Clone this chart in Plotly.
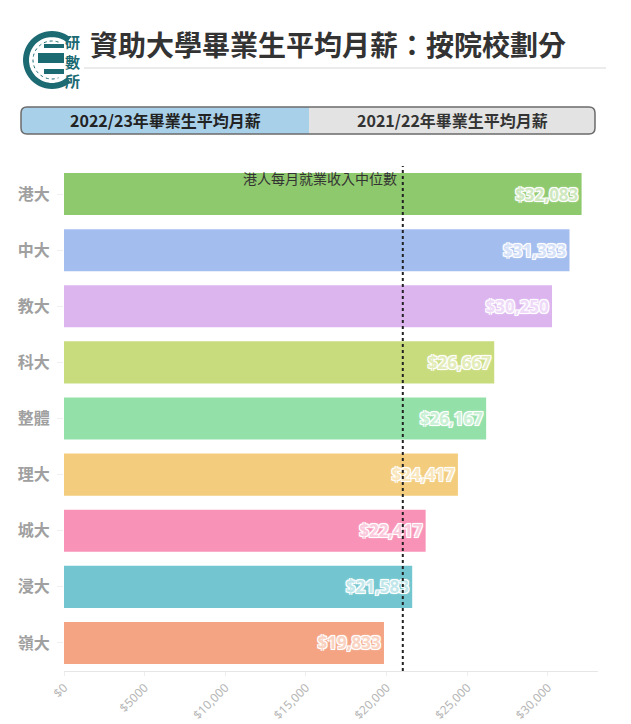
import numpy as np
import plotly.graph_objects as go

# ---------------- data ----------------
schools = ["港大", "中大", "教大", "科大", "整體", "理大", "城大", "浸大", "嶺大"]
salaries = [32083, 31333, 30250, 26667, 26167, 24417, 22417, 21583, 19833]
bar_colors = ["#8fc96e", "#a3bdee", "#dcb5ef", "#c9dc7d", "#93e0a9",
              "#f3cd7d", "#f893b7", "#73c6cf", "#f4a383"]
label_colors = ["#cfe8bf", "#d5e1f8", "#eedaf8", "#e3ecb8", "#c9f0d4",
                "#f9e6bd", "#fbcadd", "#c2e7eb", "#f9d2c1"]
median_income = 21000
median_label = "港人每月就業收入中位數"
tick_vals = [0, 5000, 10000, 15000, 20000, 25000, 30000]
tick_text = ["$0", "$5000", "$10,000", "$15,000", "$20,000", "$25,000", "$30,000"]
title_text = "資助大學畢業生平均月薪：按院校劃分"
tab_labels = ["2022/23年畢業生平均月薪", "2021/22年畢業生平均月薪"]
logo_text = "研<br>數<br>所"

# page body has an 8px margin; work in screenshot coordinates
OFF = 8
SW, SH = 631, 724
W, H = SW - OFF, SH - OFF
L, R, T, B = 64, 598, 166, 671
CJK = "Noto Sans CJK TC"


def px(x):
    return (x - L) / (R - L)


def py(y):
    return (B - y) / (B - T)


fig = go.Figure()
fig.add_trace(go.Bar(
    y=schools, x=salaries, orientation="h",
    marker=dict(color=bar_colors, line=dict(width=0)),
    text=[f"${v:,}" for v in salaries],
    textposition="inside", insidetextanchor="end",
    textfont=dict(family="Noto Sans", size=17, weight="bold", color=label_colors,
                  shadow="1px 1px 0 #fff, -1px -1px 0 #fff, 1px -1px 0 #fff, -1px 1px 0 #fff, 0 0 3px #fff"),
    cliponaxis=False, hoverinfo="skip",
))

shapes = []
# median line
shapes.append(dict(type="line", xref="x", yref="paper", x0=median_income, x1=median_income,
                   y0=py(671), y1=py(166), line=dict(color="#222", width=2, dash="dot")))
# title underline
shapes.append(dict(type="line", xref="paper", yref="paper", x0=px(84), x1=px(606),
                   y0=py(68), y1=py(68), line=dict(color="#d8d8d8", width=1)))


def rounded_path(x0, y0, x1, y1, r, left=True, right=True):
    def P(x, y):
        return f"{px(x):.5f},{py(y):.5f}"
    d = f"M {P(x0 + r, y0)} " if left else f"M {P(x0, y0)} "
    if right:
        d += f"L {P(x1 - r, y0)} Q {P(x1, y0)} {P(x1, y0 + r)} L {P(x1, y1 - r)} Q {P(x1, y1)} {P(x1 - r, y1)} "
    else:
        d += f"L {P(x1, y0)} L {P(x1, y1)} "
    if left:
        d += f"L {P(x0 + r, y1)} Q {P(x0, y1)} {P(x0, y1 - r)} L {P(x0, y0 + r)} Q {P(x0, y0)} {P(x0 + r, y0)} Z"
    else:
        d += f"L {P(x0, y1)} Z"
    return d


# tabs
shapes.append(dict(type="path", xref="paper", yref="paper",
                   path=rounded_path(21, 107, 309, 134, 6, left=True, right=False),
                   fillcolor="#a9d0e9", line=dict(width=0)))
shapes.append(dict(type="path", xref="paper", yref="paper",
                   path=rounded_path(309, 107, 595, 134, 6, left=False, right=True),
                   fillcolor="#e3e3e3", line=dict(width=0)))
shapes.append(dict(type="path", xref="paper", yref="paper",
                   path=rounded_path(21, 107, 595, 134, 6),
                   fillcolor="rgba(0,0,0,0)", line=dict(color="#6b6b6b", width=1.5)))

# logo: C-shaped ring + bars
teal = "#1c6a72"
cx, cy, rad = 52, 60, 26
ang = np.linspace(np.deg2rad(50), np.deg2rad(310), 40)
pts = [f"{px(cx + rad * np.cos(a)):.5f},{py(cy - rad * np.sin(a)):.5f}" for a in ang]
shapes.append(dict(type="path", xref="paper", yref="paper",
                   path="M " + " L ".join(pts), line=dict(color=teal, width=6)))
rad2 = 19
ang2 = np.linspace(np.deg2rad(70), np.deg2rad(290), 40)
pts2 = [f"{px(cx + rad2 * np.cos(a)):.5f},{py(cy - rad2 * np.sin(a)):.5f}" for a in ang2]
shapes.append(dict(type="path", xref="paper", yref="paper",
                   path="M " + " L ".join(pts2), line=dict(color=teal, width=1, dash="dot")))
for (x0, y0, x1, y1) in [(44, 44, 64, 48), (38, 53, 64, 63), (44, 69, 64, 74)]:
    shapes.append(dict(type="rect", xref="paper", yref="paper", x0=px(x0), x1=px(x1),
                       y0=py(y1), y1=py(y0), fillcolor=teal, line=dict(width=0)))

annotations = [
    dict(text=f"<b>{title_text}</b>", xref="paper", yref="paper", x=px(88), y=py(44),
         xanchor="left", yanchor="middle", showarrow=False,
         font=dict(family=CJK, size=28, color="#333333")),
    dict(text=f"<b>{tab_labels[0]}</b>", xref="paper", yref="paper", x=px(165), y=py(120.5),
         xanchor="center", yanchor="middle", showarrow=False,
         font=dict(family=CJK, size=16, color="#222222")),
    dict(text=f"<b>{tab_labels[1]}</b>", xref="paper", yref="paper", x=px(452), y=py(120.5),
         xanchor="center", yanchor="middle", showarrow=False,
         font=dict(family=CJK, size=16, color="#333333")),
    dict(text=f"<b>{logo_text}</b>", xref="paper", yref="paper", x=px(72), y=py(61),
         xanchor="center", yanchor="middle", showarrow=False,
         font=dict(family=CJK, size=15, color=teal)),
    dict(text=median_label, xref="x", yref="paper", x=median_income, y=py(178),
         xanchor="right", yanchor="middle", xshift=-4, showarrow=False,
         font=dict(family=CJK, size=14, color="#333333")),
]

fig.update_layout(
    width=W, height=H,
    margin=dict(l=L - OFF, r=SW - R, t=T - OFF, b=SH - B, pad=0),
    paper_bgcolor="white", plot_bgcolor="white",
    showlegend=False, bargap=0.25,
    shapes=shapes, annotations=annotations,
    xaxis=dict(range=[0, 33100], tickvals=tick_vals, ticktext=tick_text, tickangle=-45,
               tickfont=dict(family="Noto Sans", size=12, color="#b5b5b5"),
               showgrid=False, zeroline=False, showline=True, linecolor="#e6e6e6", linewidth=1,
               ticks="outside", ticklen=4, tickcolor="#eeeeee", fixedrange=True, automargin=False),
    yaxis=dict(autorange="reversed", showgrid=False, zeroline=False,
               tickfont=dict(family=CJK, size=16, color="#a0a0a0", weight="bold"),
               ticks="outside", ticklen=6, tickcolor="#f0f0f0", ticklabelstandoff=4,
               fixedrange=True, automargin=False),
)

fig.write_html("out.html")
